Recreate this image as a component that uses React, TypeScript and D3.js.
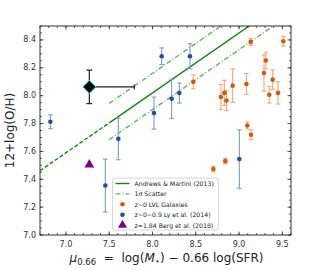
import * as d3 from "d3";

// Andrews & Martini (2013) relation, 12+log(O/H) = a * mu + b
const amSlope = 0.43;
const amIntercept = 4.58;
const amDashedMu = [6.7, 7.5];
const amSolidMu = [7.5, 9.6];
const scatterUp = 0.14;
const scatterDown = -0.12;

// z~0-0.9 Ly et al. (2014)
const lyMu = [6.82, 7.455, 7.605, 8.017, 8.106, 8.221, 8.31, 8.433, 9.003];
const lyOH = [7.813, 7.355, 7.69, 7.875, 8.283, 7.978, 8.019, 8.283, 7.545];
const lyErr = [0.05, 0.19, 0.15, 0.115, 0.06, 0.14, 0.072, 0.09, 0.21];

// z~0 LVL galaxies
const lvlMu = [8.703, 8.841, 8.471, 8.79, 8.83, 8.855, 8.926, 9.085, 9.095, 9.138, 9.134, 9.288, 9.31, 9.349, 9.388, 9.45, 9.511];
const lvlOH = [7.473, 7.53, 8.099, 7.99, 8.02, 7.965, 8.072, 8.084, 7.786, 7.72, 8.386, 8.163, 8.252, 8.007, 8.115, 8.02, 8.391];
const lvlErr = [0.02, 0.02, 0.05, 0.09, 0.09, 0.07, 0.12, 0.075, 0.025, 0.035, 0.025, 0.13, 0.06, 0.06, 0.07, 0.08, 0.035];

// z=1.84 Berg et al. (2018)
const bergMu = [7.27];
const bergOH = [7.505];

// big diamond
const diaMu = 7.27;
const diaOH = 8.063;
const diaErrY = 0.12;
const diaErrXLow = 0.0;
const diaErrXHigh = 0.52;

const xMajor = [7.0, 7.5, 8.0, 8.5, 9.0, 9.5];
const yMajor = [7.0, 7.2, 7.4, 7.6, 7.8, 8.0, 8.2, 8.4];

const W = 314;
const H = 270;
const m = { left: 40, right: 23, top: 26, bottom: 35 };
const font = "DejaVu Sans, sans-serif";
const axisCol = "#333";
const textCol = "#333";
const lineGreen = "#0c8a0c";
const scatterGreen = "#5cb85c";
const blue = "#1f4e9c";
const blueErr = "#7c9ad0";
const orange = "#d45a0a";
const orangeErr = "#f0a878";

export default function App() {
  const x = d3.scaleLinear().domain([6.7, 9.6]).range([m.left, W - m.right]);
  const y = d3.scaleLinear().domain([7.0, 8.5]).range([H - m.bottom, m.top]);
  const x0 = m.left, x1 = W - m.right, y0 = H - m.bottom, y1 = m.top;

  const am = (mu: number) => amSlope * mu + amIntercept;
  const line = d3
    .line<number>()
    .x((d) => x(d))
    .y((d) => y(am(d)));
  const lineOff = (off: number) =>
    d3
      .line<number>()
      .x((d) => x(d))
      .y((d) => y(am(d) + off));

  const xMinor = d3.range(67, 97).map((d) => d / 10);
  const yMinor = d3.range(140, 171).map((d) => d / 20);

  const cap = 2.3;
  const errBar = (cx: number, lo: number, hi: number, col: string, key: string) => (
    <g key={key} stroke={col} strokeWidth={1.1}>
      <line x1={cx} x2={cx} y1={lo} y2={hi} />
      <line x1={cx - cap} x2={cx + cap} y1={lo} y2={lo} />
      <line x1={cx - cap} x2={cx + cap} y1={hi} y2={hi} />
    </g>
  );

  const legX = 112.5, legY = 178, legW = 106, legH = 52;
  const rowY = (i: number) => legY + 5.5 + i * 10.4;
  const legItems = [
    "Andrews & Martini (2013)",
    "1σ Scatter",
    "z∼0 LVL Galaxies",
    "z∼0−0.9 Ly et al. (2014)",
    "z=1.84 Berg et al. (2018)",
  ];

  const tri = d3.symbol(d3.symbolTriangle, 40)();
  const triSmall = d3.symbol(d3.symbolTriangle, 36)();

  return (
    <svg width={W} height={H} style={{ position: "absolute", left: 0, top: 0, background: "#fff" }} fontFamily={font}>
      <defs>
        <clipPath id="plotClip">
          <rect x={x0} y={y1} width={x1 - x0} height={y0 - y1} />
        </clipPath>
      </defs>

      <g clipPath="url(#plotClip)">
        <path d={line(amDashedMu) ?? ""} fill="none" stroke={lineGreen} strokeWidth={1.4} strokeDasharray="4,2" />
        <path d={line(amSolidMu) ?? ""} fill="none" stroke={lineGreen} strokeWidth={1.4} />
        <path d={lineOff(scatterUp)(amSolidMu) ?? ""} fill="none" stroke={scatterGreen} strokeWidth={1.4} strokeDasharray="5,2,1,2" />
        <path d={lineOff(scatterDown)(amSolidMu) ?? ""} fill="none" stroke={scatterGreen} strokeWidth={1.4} strokeDasharray="5,2,1,2" />
      </g>

      {/* LVL */}
      {lvlMu.map((d, i) => errBar(x(d), y(lvlOH[i] - lvlErr[i]), y(lvlOH[i] + lvlErr[i]), orangeErr, "le" + i))}
      {lvlMu.map((d, i) => (
        <circle key={"lp" + i} cx={x(d)} cy={y(lvlOH[i])} r={2.3} fill={orange} />
      ))}

      {/* Ly */}
      {lyMu.map((d, i) => errBar(x(d), y(lyOH[i] - lyErr[i]), y(lyOH[i] + lyErr[i]), blueErr, "be" + i))}
      {lyMu.map((d, i) => (
        <circle key={"bp" + i} cx={x(d)} cy={y(lyOH[i])} r={2.3} fill={blue} />
      ))}

      {/* Berg */}
      {bergMu.map((d, i) => (
        <path key={"tr" + i} d={tri ?? ""} transform={`translate(${x(d)},${y(bergOH[i])})`} fill="#800080" />
      ))}

      {/* diamond */}
      <g stroke="#222" strokeWidth={1.2}>
        <line x1={x(diaMu - diaErrXLow)} x2={x(diaMu + diaErrXHigh)} y1={y(diaOH)} y2={y(diaOH)} />
        <line x1={x(diaMu + diaErrXHigh)} x2={x(diaMu + diaErrXHigh)} y1={y(diaOH) - 2.5} y2={y(diaOH) + 2.5} />
        <line x1={x(diaMu)} x2={x(diaMu)} y1={y(diaOH - diaErrY)} y2={y(diaOH + diaErrY)} />
        <line x1={x(diaMu) - 3} x2={x(diaMu) + 3} y1={y(diaOH - diaErrY)} y2={y(diaOH - diaErrY)} />
        <line x1={x(diaMu) - 3} x2={x(diaMu) + 3} y1={y(diaOH + diaErrY)} y2={y(diaOH + diaErrY)} />
      </g>
      <path
        d={`M${x(diaMu)},${y(diaOH) - 6.5}L${x(diaMu) + 6.5},${y(diaOH)}L${x(diaMu)},${y(diaOH) + 6.5}L${x(diaMu) - 6.5},${y(diaOH)}Z`}
        fill="#000"
        stroke="#00e5ee"
        strokeWidth={1}
      />

      {/* frame & ticks */}
      <rect x={x0} y={y1} width={x1 - x0} height={y0 - y1} fill="none" stroke={axisCol} strokeWidth={1} />
      <g stroke={axisCol} strokeWidth={0.8}>
        {xMinor.map((d) => (
          <g key={"xm" + d}>
            <line x1={x(d)} x2={x(d)} y1={y0} y2={y0 - 2} />
            <line x1={x(d)} x2={x(d)} y1={y1} y2={y1 + 2} />
          </g>
        ))}
        {xMajor.map((d) => (
          <g key={"xM" + d}>
            <line x1={x(d)} x2={x(d)} y1={y0} y2={y0 - 3.5} />
            <line x1={x(d)} x2={x(d)} y1={y1} y2={y1 + 3.5} />
          </g>
        ))}
        {yMinor.map((d) => (
          <g key={"ym" + d}>
            <line x1={x0} x2={x0 + 2} y1={y(d)} y2={y(d)} />
            <line x1={x1} x2={x1 - 2} y1={y(d)} y2={y(d)} />
          </g>
        ))}
        {yMajor.map((d) => (
          <g key={"yM" + d}>
            <line x1={x0} x2={x0 + 3.5} y1={y(d)} y2={y(d)} />
            <line x1={x1} x2={x1 - 3.5} y1={y(d)} y2={y(d)} />
          </g>
        ))}
      </g>
      <g fontSize={8} fill={textCol}>
        {xMajor.map((d) => (
          <text key={"xl" + d} x={x(d)} y={y0 + 12} textAnchor="middle">
            {d.toFixed(1)}
          </text>
        ))}
        {yMajor.map((d) => (
          <text key={"yl" + d} x={x0 - 4} y={y(d)} textAnchor="end" dominantBaseline="central">
            {d.toFixed(1)}
          </text>
        ))}
      </g>

      {/* axis labels */}
      <text
        transform={`translate(14,${(y0 + y1) / 2}) rotate(-90)`}
        textAnchor="middle"
        fontSize={12}
        fill="#222"
      >
        12+log(O/H)
      </text>
      <text x={(x0 + x1) / 2 + 1} y={262} textAnchor="middle" fontSize={12} fill="#222" style={{ whiteSpace: "pre" }}>
        <tspan fontStyle="italic">μ</tspan>
        <tspan fontSize={8.5} dy={3}>0.66</tspan>
        <tspan dy={-3}>{"  =  log("}</tspan>
        <tspan fontStyle="italic">M</tspan>
        <tspan fontSize={8.5} dy={2}>⋆</tspan>
        <tspan dy={-2}>) − 0.66 log(SFR)</tspan>
      </text>

      {/* legend */}
      <rect x={legX} y={legY} width={legW} height={legH} rx={2} fill="#fff" fillOpacity={0.85} stroke="#ccc" strokeWidth={0.8} />
      <line x1={legX + 3} x2={legX + 17} y1={rowY(0)} y2={rowY(0)} stroke={lineGreen} strokeWidth={1.4} />
      <line x1={legX + 3} x2={legX + 17} y1={rowY(1)} y2={rowY(1)} stroke={scatterGreen} strokeWidth={1.4} strokeDasharray="5,2,1,2" />
      <circle cx={legX + 10} cy={rowY(2)} r={2.3} fill={orange} />
      <circle cx={legX + 10} cy={rowY(3)} r={2.3} fill={blue} />
      <path d={triSmall ?? ""} transform={`translate(${legX + 10},${rowY(4)})`} fill="#800080" />
      <g fontSize={6.2} fill="#222">
        {legItems.map((t, i) => (
          <text key={"lg" + i} x={legX + 22} y={rowY(i)} dominantBaseline="central">
            {t}
          </text>
        ))}
      </g>
    </svg>
  );
}
